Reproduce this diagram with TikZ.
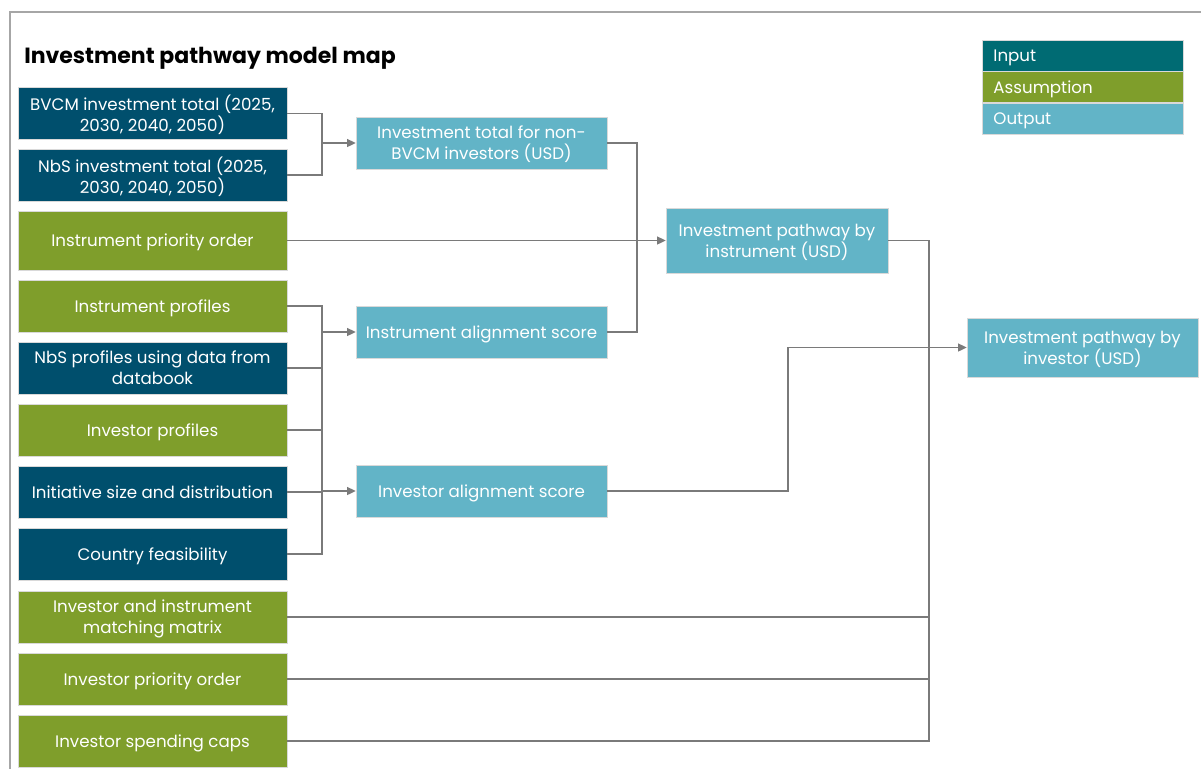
\documentclass[tikz,border=0pt]{standalone}
\usepackage{fontspec}
\setmainfont{Poppins}
\usetikzlibrary{arrows.meta,calc}

\definecolor{inputblue}{HTML}{004F6D}
\definecolor{legendteal}{HTML}{006B73}
\definecolor{assumgreen}{HTML}{7F9E2B}
\definecolor{outcyan}{HTML}{62B4C7}
\definecolor{linegray}{HTML}{7A7A7A}
\definecolor{framegray}{HTML}{A6A6A6}

\tikzset{
	box/.style={inner sep=0pt, align=center, text=white, draw=white!85!black, line width=0.4pt,
		font=\fontsize{12.5}{15.75}\selectfont, text depth=0pt, minimum width=201.75pt, minimum height=39pt},
	inbox/.style={box, fill=inputblue},
	asbox/.style={box, fill=assumgreen},
	outbox/.style={box, fill=outcyan, minimum width=188.25pt},
	legbox/.style={box, align=left, anchor=west, inner xsep=8.25pt, text width=134pt,
		minimum width=150.75pt, minimum height=23.6pt},
	link/.style={draw=linegray, line width=0.9pt},
	arr/.style={link, -{Triangle[length=6.5pt,width=6pt]}},
}

\begin{document}
\begin{tikzpicture}[x=0.75pt, y=-0.75pt]
		%%%%% START %%%%%
		\useasboundingbox (0,0) rectangle (1201,769);
		
		\draw[framegray, line width=1.5pt] (1201,12) -- (10,12) -- (10,769);
		\node[anchor=base west, inner sep=0pt, font=\bfseries\fontsize{16.5}{20}\selectfont] (title) at (24,63) {Investment pathway model map};
		
		% legend
		\node[legbox, fill=legendteal] (leginput) at (982,55.5) {Input};
		\node[legbox, fill=assumgreen] (legassum) at (982,87) {Assumption};
		\node[legbox, fill=outcyan] (legoutput) at (982,118.5) {Output};
		
		% left column
		\node[inbox] (bvcm) at (152.5,113.5) {BVCM investment total (2025,\\2030, 2040, 2050)};
		\node[inbox] (nbs) at (152.5,175) {NbS investment total (2025,\\2030, 2040, 2050)};
		\node[asbox, minimum height=44.25pt] (ipo) at (152.5,240.5) {Instrument priority order};
		\node[asbox] (iprof) at (152.5,306) {Instrument profiles};
		\node[inbox] (nbsprof) at (152.5,368) {NbS profiles using data from\\databook};
		\node[asbox] (invprof) at (152.5,430) {Investor profiles};
		\node[inbox] (initsize) at (152.5,492) {Initiative size and distribution};
		\node[inbox] (cfeas) at (152.5,554) {Country feasibility};
		\node[asbox] (matrix) at (152.5,617) {Investor and instrument\\matching matrix};
		\node[asbox] (invprio) at (152.5,679) {Investor priority order};
		\node[asbox] (caps) at (152.5,741) {Investor spending caps};
		
		% outputs
		\node[outbox] (nonbvcm) at (481.5,143) {Investment total for non-\\BVCM investors (USD)};
		\node[outbox] (instal) at (481.5,332) {Instrument alignment score};
		\node[outbox] (invalign) at (481.5,491) {Investor alignment score};
		\node[outbox, minimum width=166.5pt, minimum height=48.75pt] (pathinst) at (777,240.5) {Investment pathway by\\instrument (USD)};
		\node[outbox, minimum width=173.25pt, minimum height=44.25pt] (pathinv) at (1082.5,347.5) {Investment pathway by\\investor (USD)};
		
		\coordinate (busa) at (322,0);
		\coordinate (busb) at (637,0);
		\coordinate (busc) at (788,0);
		\coordinate (busd) at (929,0);
		
		\draw[link] (bvcm.east) -| (nonbvcm.west -| busa) |- (nbs.east);
		\draw[arr] (nonbvcm.west -| busa) -- (nonbvcm.west);
		
		\draw[link] (nonbvcm.east) -| (pathinst.west -| busb) |- (instal.east);
		\draw[arr] (ipo.east) -- (pathinst.west);
		
		\draw[link] (iprof.east) -| (cfeas.east -| busa) -- (cfeas.east);
		\foreach \n in {nbsprof,invprof,initsize}
			\draw[link] (\n.east) -- (\n.east -| busa);
		\draw[arr] (instal.west -| busa) -- (instal.west);
		\draw[arr] (invalign.west -| busa) -- (invalign.west);
		
		\draw[link] (pathinst.east) -| (caps.east -| busd) -- (caps.east);
		\foreach \n in {matrix,invprio}
			\draw[link] (\n.east) -- (\n.east -| busd);
		\draw[arr] (invalign.east) -| (pathinv.west -| busc) -- (pathinv.west);
		
		%%%%% END %%%%%
\end{tikzpicture}
\end{document}
